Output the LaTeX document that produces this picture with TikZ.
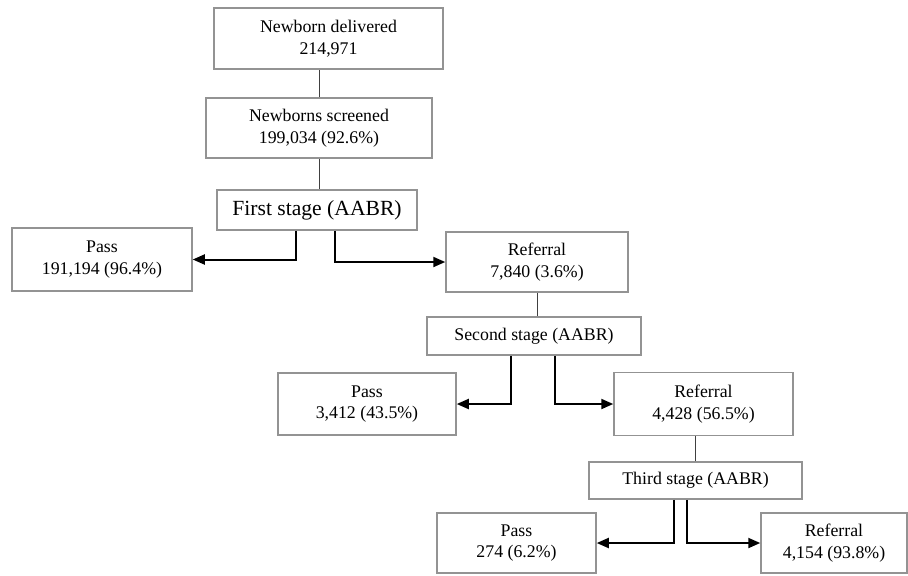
\documentclass[tikz,border=0pt]{standalone}
\usepackage{fontspec}
\setmainfont{Liberation Serif}
\usetikzlibrary{positioning, arrows.meta}
\tikzset{
box/.style={draw=gray!85, line width=0.75pt, align=center, inner sep=0pt,
    font=\fontsize{8.9}{10.75}\selectfont},
stagebox/.style={box, font=\fontsize{10.8}{12}\selectfont},
link/.style={draw=black!75, line width=0.5pt},
branch/.style={-{Triangle[length=6pt,width=5pt]}, line width=1pt, black},
}

\begin{document}
\begin{tikzpicture}[x=0.5pt, y=-0.5pt]
    \useasboundingbox (0,0) rectangle (908,575);
        \node[box, minimum width=114.5pt, minimum height=30.5pt] (deliv) at (328.5,38.5) {Newborn delivered\\214,971};
        \node[box, minimum width=113pt, minimum height=30pt] (screen) at (319,128) {Newborns screened\\199,034 (92.6\%)};
        \node[stagebox, minimum width=100pt, minimum height=20pt] (st1) at (317,210) {First stage (AABR)};
        \node[box, minimum width=90pt, minimum height=31.5pt] (pass1) at (102,259.5) {Pass\\191,194 (96.4\%)};
        \node[box, minimum width=91pt, minimum height=30pt] (ref1) at (537,262) {Referral\\7,840 (3.6\%)};
        \node[box, minimum width=107pt, minimum height=19pt] (st2) at (534,336) {Second stage (AABR)};
        \node[box, minimum width=89pt, minimum height=31pt] (pass2) at (367,404) {Pass\\3,412 (43.5\%)};
        \node[box, minimum width=89.5pt, minimum height=31.5pt] (ref2) at (703.5,404) {Referral\\4,428 (56.5\%)};
        \node[box, minimum width=106.5pt, minimum height=18.5pt] (st3) at (695.5,480.5) {Third stage (AABR)};
        \node[box, minimum width=79.5pt, minimum height=30pt] (pass3) at (516.5,543) {Pass\\274 (6.2\%)};
        \node[box, minimum width=73pt, minimum height=30pt] (ref3) at (834,543) {Referral\\4,154 (93.8\%)};

        % plain links
        \draw[link] (screen.north) -- (screen.north |- deliv.south);
        \draw[link] (screen.south) -- (screen.south |- st1.north);
        \draw[link] (ref1.south) -- (ref1.south |- st2.north);
        \draw[link] (st3.north) -- (st3.north |- ref2.south);

        % pass / referral branches
        \draw[branch] ([xshift=-10.5pt]st1.south) |- (pass1.east);
        \draw[branch] ([xshift=9pt]st1.south) |- (ref1.west);
        \draw[branch] ([xshift=-11.5pt]st2.south) |- (pass2.east);
        \draw[branch] ([xshift=10.5pt]st2.south) |- (ref2.west);
        \draw[branch] ([xshift=-10.75pt]st3.south) |- (pass3.east);
        \draw[branch] ([xshift=-4.25pt]st3.south) |- (ref3.west);
    \end{tikzpicture}
\end{document}
